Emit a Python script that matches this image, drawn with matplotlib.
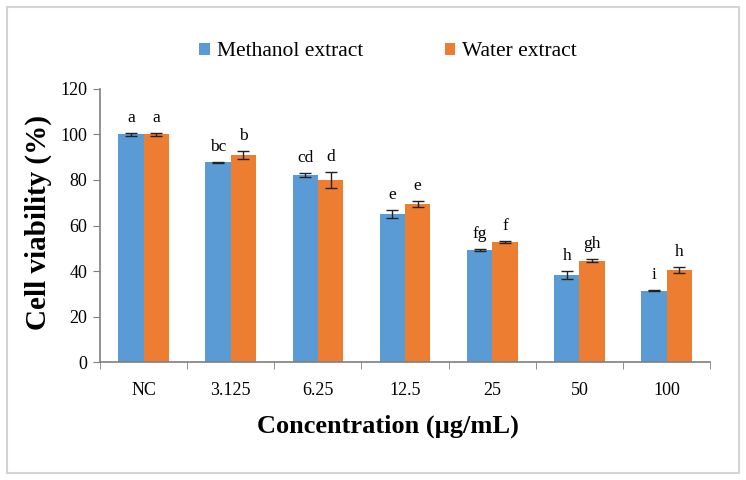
import numpy as np
import matplotlib
matplotlib.use('Agg')
import matplotlib.pyplot as plt
from matplotlib.patches import Rectangle

# data
categories = ["NC", "3.125", "6.25", "12.5", "25", "50", "100"]
methanol = [100, 87.8, 82.2, 65.0, 49.3, 38.3, 31.4]
methanol_err = [0.8, 0.3, 0.8, 1.7, 0.4, 1.8, 0.3]
water = [100, 91.0, 80.0, 69.5, 52.9, 44.6, 40.6]
water_err = [0.8, 1.8, 3.6, 1.4, 0.5, 0.7, 1.2]
methanol_letters = ["a", "bc", "cd", "e", "fg", "h", "i"]
water_letters = ["a", "b", "d", "e", "f", "gh", "h"]

plt.rcParams['font.family'] = ['Liberation Serif', 'DejaVu Serif']

blue = "#5B9BD5"
orange = "#ED7D31"
axis_col = "#7f7f7f"

fig = plt.figure(figsize=(7.46, 4.8), dpi=100)
ax = fig.add_axes([0.134, 0.245, 0.818, 0.570])

x = np.arange(len(categories))
w = 0.29
ax.bar(x - w / 2, methanol, w, color=blue, label="Methanol extract", zorder=2)
ax.bar(x + w / 2, water, w, color=orange, label="Water extract", zorder=2)
ax.errorbar(x - w / 2, methanol, yerr=methanol_err, fmt="none", ecolor="#222222",
            elinewidth=1, capsize=4, capthick=1, zorder=3)
ax.errorbar(x + w / 2, water, yerr=water_err, fmt="none", ecolor="#222222",
            elinewidth=1, capsize=4, capthick=1, zorder=3)

for xi, v, e, t in zip(x - w / 2, methanol, methanol_err, methanol_letters):
    ax.annotate(t, (xi, v + e), xytext=(0, 5), textcoords="offset points",
                ha="center", va="bottom", fontsize=12.5)
for xi, v, e, t in zip(x + w / 2, water, water_err, water_letters):
    ax.annotate(t, (xi, v + e), xytext=(0, 5), textcoords="offset points",
                ha="center", va="bottom", fontsize=12.5)

ax.set_xlim(-0.5, len(categories) - 0.5)
ax.set_ylim(0, 120)
ax.set_yticks(np.arange(0, 121, 20))
ax.set_xticks(x)
ax.set_xticklabels(categories)
ax.set_xticks(np.arange(-0.5, len(categories)), minor=True)
ax.tick_params(axis="x", which="major", length=0, pad=14, labelsize=13)
ax.tick_params(axis="x", which="minor", length=5, color=axis_col, direction="out")
ax.tick_params(axis="y", length=5, color=axis_col, labelsize=13, pad=4)

for s in ["top", "right"]:
    ax.spines[s].set_visible(False)
for s in ["left", "bottom"]:
    ax.spines[s].set_color(axis_col)
    ax.spines[s].set_linewidth(1.2)

ax.set_ylabel("Cell viability (%)", fontsize=21, fontweight="bold")
ax.yaxis.set_label_coords(-0.078, 0.51)
ax.set_xlabel("Concentration (µg/mL)", fontsize=19, fontweight="bold")
ax.xaxis.set_label_coords((388 - 100) / 610, -0.19)

fig.legend(*ax.get_legend_handles_labels(), loc="center",
           bbox_to_anchor=(388 / 746, 1 - 52 / 480), ncol=2, frameon=False,
           fontsize=15.5, handlelength=0.5, handleheight=0.5, handletextpad=0.3,
           columnspacing=3.8)

# light frame around the whole figure
fig.patches.append(Rectangle((7 / 746, 7 / 480), 732 / 746, 466 / 480,
                             transform=fig.transFigure, fill=False,
                             edgecolor="#d4d4d4", linewidth=1.5))

fig.savefig("out.png", dpi=100)
